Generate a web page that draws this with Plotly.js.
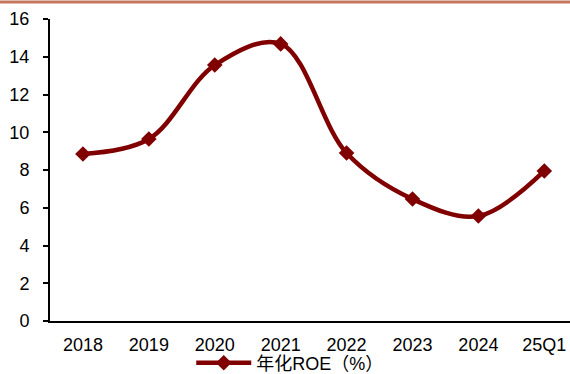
<!DOCTYPE html>
<html>
<head>
<meta charset="utf-8">
<script src="https://cdn.plot.ly/plotly-3.0.1.min.js"></script>
<style>html,body{margin:0;padding:0;background:#fff;}#chart{width:570px;height:374px;}</style>
</head>
<body>
<div id="chart"></div>
<script>
const categories = ["2018", "2019", "2020", "2021", "2022", "2023", "2024", "25Q1"];
const roeValues = [8.85, 9.64, 13.56, 14.68, 8.9, 6.46, 5.56, 7.95];
const seriesName = "年化ROE（%）";
const yTicks = [0, 2, 4, 6, 8, 10, 12, 14, 16];

const trace = {
  x: categories,
  y: roeValues,
  name: seriesName,
  type: "scatter",
  mode: "lines+markers",
  line: {color: "#800000", width: 4.5, shape: "spline", smoothing: 1},
  marker: {symbol: "diamond", size: 12, color: "#800000"},
  showlegend: true
};

const layout = {
  width: 570, height: 374,
  margin: {l: 50, r: 0, t: 19, b: 53, autoexpand: false},
  paper_bgcolor: "#fff", plot_bgcolor: "#fff",
  font: {family: "Liberation Sans, Arial, sans-serif", size: 18, color: "#000"},
  xaxis: {
    type: "category",
    range: [-0.5, 7.39],
    showgrid: false, zeroline: false,
    showline: true, linecolor: "#000", linewidth: 2,
    ticks: "", ticklabelstandoff: 6,
    tickfont: {size: 18}
  },
  yaxis: {
    range: [0, 16],
    tickvals: yTicks,
    showgrid: false, zeroline: false,
    showline: true, linecolor: "#000", linewidth: 2,
    ticks: "outside", ticklen: 5, tickwidth: 2, tickcolor: "#000",
    ticklabelstandoff: 10,
    tickfont: {size: 18}
  },
  showlegend: true,
  legend: {
    orientation: "h", x: 0.462, xanchor: "center",
    yref: "container", y: 11 / 374, yanchor: "middle",
    font: {size: 18, family: "Liberation Sans, Noto Sans CJK SC, sans-serif"},
    itemwidth: 55, bgcolor: "rgba(0,0,0,0)"
  },
  shapes: [{
    type: "line", xref: "paper", yref: "paper",
    xsizemode: "pixel", ysizemode: "pixel", xanchor: 0, yanchor: 1,
    x0: -50, x1: 520, y0: 17, y1: 17,
    line: {color: "#C4775C", width: 3}
  }]
};

Plotly.newPlot("chart", [trace], layout, {displayModeBar: false, staticPlot: true});
</script>
</body>
</html>
